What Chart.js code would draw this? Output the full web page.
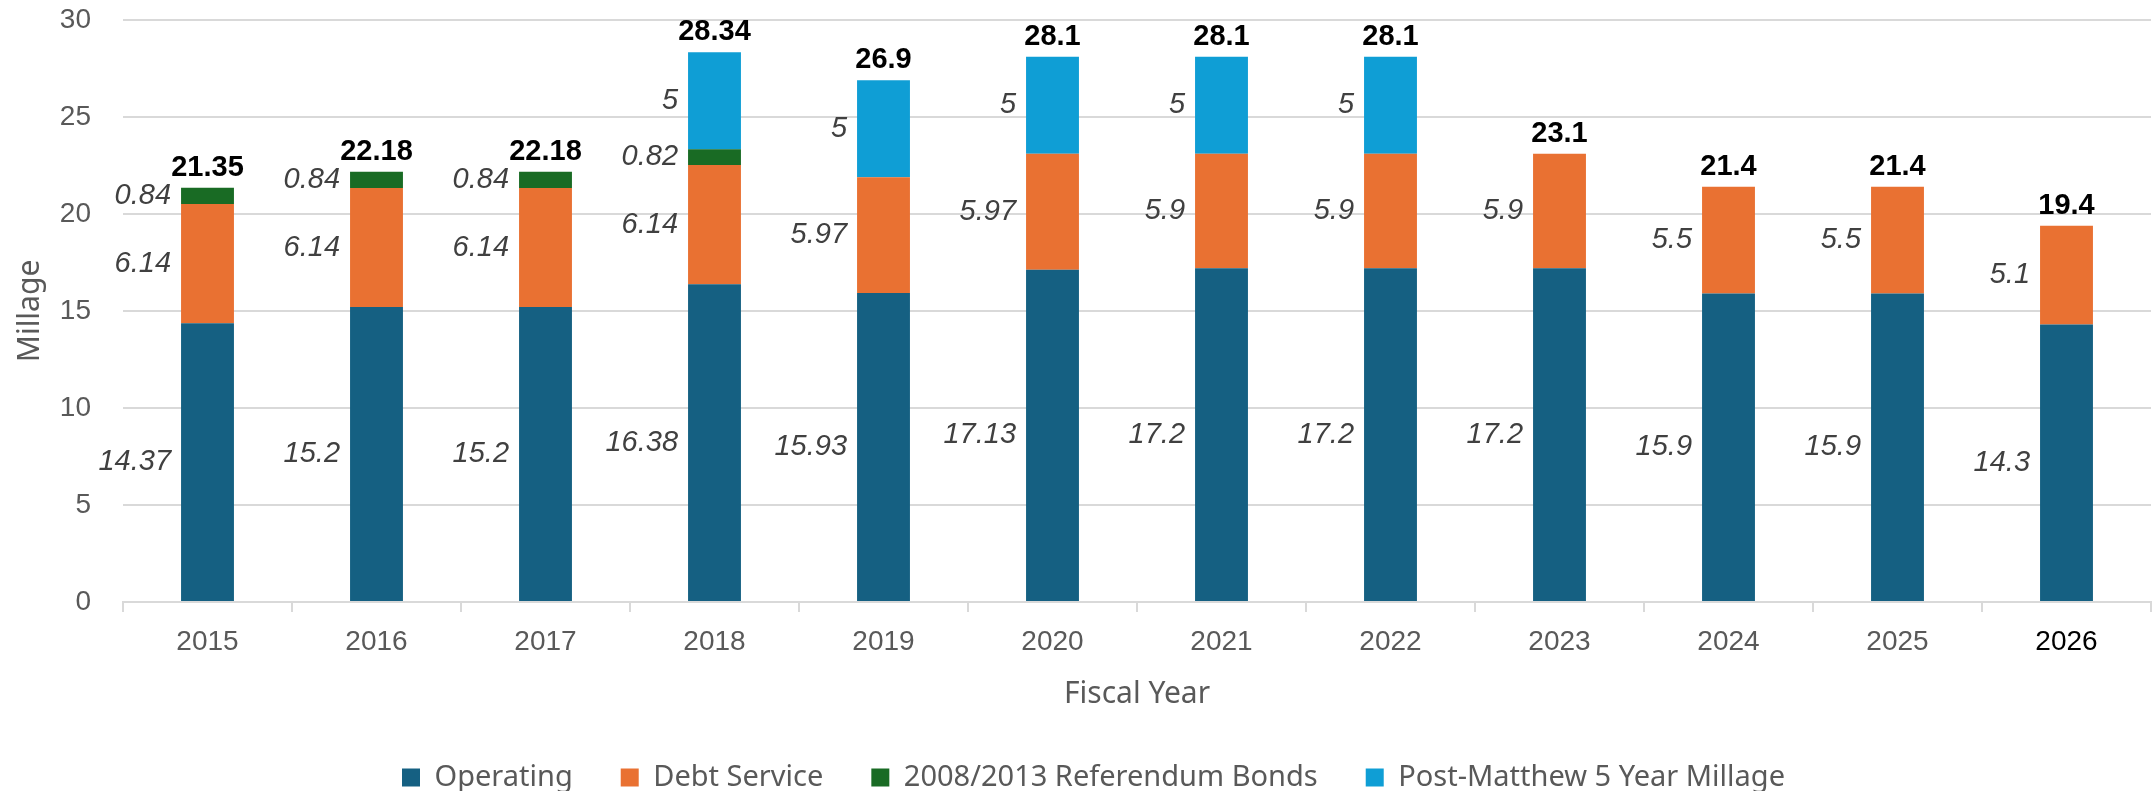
<!DOCTYPE html>
<html>
<head>
<meta charset="utf-8">
<script src="https://cdn.jsdelivr.net/npm/chart.js@4"></script>
<style>
  html, body { margin: 0; padding: 0; background: #fff; }
  #wrap { width: 2153px; height: 791px; }
</style>
</head>
<body>
<div id="wrap"><canvas id="millageChart"></canvas></div>
<script>
const years = ['2015', '2016', '2017', '2018', '2019', '2020', '2021', '2022', '2023', '2024', '2025', '2026'];
const operating = [14.37, 15.2, 15.2, 16.38, 15.93, 17.13, 17.2, 17.2, 17.2, 15.9, 15.9, 14.3];
const debtService = [6.14, 6.14, 6.14, 6.14, 5.97, 5.97, 5.9, 5.9, 5.9, 5.5, 5.5, 5.1];
const referendumBonds = [0.84, 0.84, 0.84, 0.82, 0, 0, 0, 0, 0, 0, 0, 0];
const postMatthew = [0, 0, 0, 5, 5, 5, 5, 5, 0, 0, 0, 0];
const totals = [21.35, 22.18, 22.18, 28.34, 26.9, 28.1, 28.1, 28.1, 23.1, 21.4, 21.4, 19.4];
const yTicks = [0, 5, 10, 15, 20, 25, 30];

const GRAY = '#595959';
const GRID = '#d9d9d9';
const ARIAL = '"Liberation Sans", Arial, sans-serif';
const TITLE_FONT = '"Noto Sans", "Open Sans", sans-serif';

// segment values drawn in italics just left of each bar, totals in bold above the stack
const barLabels = {
  id: 'barLabels',
  afterDatasetsDraw(chart) {
    const ctx = chart.ctx;
    ctx.save();
    ctx.font = 'italic 29px ' + ARIAL;
    ctx.fillStyle = '#404040';
    ctx.textAlign = 'right';
    ctx.textBaseline = 'middle';
    chart.data.datasets.forEach((ds, i) => {
      chart.getDatasetMeta(i).data.forEach((bar, j) => {
        const v = ds.data[j];
        if (!v) return;
        ctx.fillText(String(v), bar.x - bar.width / 2 - 10, (bar.y + bar.base) / 2);
      });
    });

    const yScale = chart.scales.y;
    const meta = chart.getDatasetMeta(0);
    ctx.font = 'bold 29px ' + ARIAL;
    ctx.fillStyle = '#000';
    ctx.textAlign = 'center';
    ctx.textBaseline = 'alphabetic';
    totals.forEach((t, j) => {
      ctx.fillText(String(t), meta.data[j].x, yScale.getPixelForValue(t) - 12);
    });
    ctx.restore();
  }
};

const data = {
  labels: years,
  datasets: [
    { label: 'Operating', data: operating, backgroundColor: '#156082' },
    { label: 'Debt Service', data: debtService, backgroundColor: '#E97132' },
    { label: '2008/2013 Referendum Bonds', data: referendumBonds, backgroundColor: '#196B24' },
    { label: 'Post-Matthew 5 Year Millage', data: postMatthew, backgroundColor: '#0F9ED5' }
  ]
};

const config = {
  type: 'bar',
  data: data,
  options: {
    responsive: true,
    maintainAspectRatio: false,
    animation: false,
    datasets: { bar: { categoryPercentage: 1, barPercentage: 0.313 } },
    layout: { padding: { left: 36, right: 2, top: 20, bottom: -11 } },
    plugins: {
      tooltip: { enabled: false },
      legend: {
        position: 'bottom',
        labels: {
          boxWidth: 18,
          boxHeight: 18,
          padding: 48,
          color: GRAY,
          font: { family: TITLE_FONT, size: 29 }
        }
      }
    },
    scales: {
      x: {
        stacked: true,
        offset: true,
        grid: { offset: true, drawOnChartArea: false, drawTicks: true, tickLength: 10, color: GRID, lineWidth: 2 },
        border: { display: true, color: GRID, width: 2 },
        ticks: {
          padding: 13,
          color: (c) => c.index === years.length - 1 ? '#000' : GRAY,
          font: { family: ARIAL, size: 28 }
        },
        title: {
          display: true,
          text: 'Fiscal Year',
          color: GRAY,
          font: { family: TITLE_FONT, size: 30 },
          padding: { top: 0, bottom: 3 }
        },
        afterFit: (scale) => { scale.height = 113; }
      },
      y: {
        stacked: true,
        min: 0,
        max: 30,
        afterBuildTicks: (scale) => { scale.ticks = yTicks.map(v => ({ value: v })); },
        // invisible tick marks keep the labels clear of the plot
        grid: { drawTicks: true, tickLength: 32, tickColor: 'rgba(0,0,0,0)', color: GRID, lineWidth: 2 },
        border: { display: false },
        ticks: {
          padding: 0,
          color: GRAY,
          font: { family: ARIAL, size: 28 }
        },
        title: {
          display: true,
          text: 'Millage',
          color: GRAY,
          font: { family: TITLE_FONT, size: 30 },
          padding: { top: -24, bottom: 0 }
        },
        afterFit: (scale) => { scale.width = 87; }
      }
    }
  },
  plugins: [barLabels]
};

const millageChart = new Chart(document.getElementById('millageChart'), config);
</script>
</body>
</html>
